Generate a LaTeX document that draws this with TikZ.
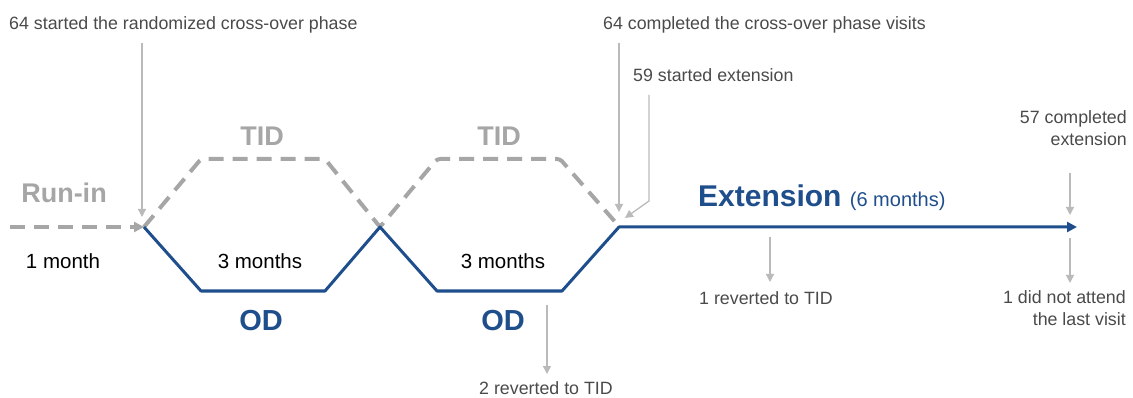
\documentclass[tikz,border=0pt]{standalone}
\usepackage{fontspec}
\setmainfont{Liberation Sans}
\usetikzlibrary{arrows.meta,positioning}
\definecolor{odblue}{HTML}{1F4E8C}
\definecolor{tidgray}{HTML}{A6A6A6}
\definecolor{ptrgray}{HTML}{BABABA}
\definecolor{notegray}{HTML}{4A4A4A}

\begin{document}
\begin{tikzpicture}[x=1pt, y=-1pt,
    note/.style={text=notegray, font=\fontsize{17.8}{22}\selectfont, inner sep=0pt},
    span/.style={text=black, font=\fontsize{20.5}{24}\selectfont, inner sep=0pt},
    tid/.style={text=tidgray, font=\bfseries\fontsize{27}{30}\selectfont, inner sep=0pt},
    od/.style={text=odblue, font=\bfseries\fontsize{29}{32}\selectfont, inner sep=0pt},
    odline/.style={draw=odblue, line width=3pt, line join=round},
    tidline/.style={draw=tidgray, line width=4pt, dash pattern=on 15pt off 9pt, rounded corners=3pt},
    pointer/.style={draw=ptrgray, line width=1.3pt, -{Triangle[length=8pt,width=8pt]}}
]
\useasboundingbox (0,0) rectangle (1133,398);

% Punti del percorso
\coordinate (r0) at (10,227);
\coordinate (s0) at (144,227);
\coordinate (b1) at (201,291);
\coordinate (b2) at (325,291);
\coordinate (x1) at (380,227);
\coordinate (b3) at (437,291);
\coordinate (b4) at (562,291);
\coordinate (e0) at (619,227);
\coordinate (e1) at (1077,227);
\coordinate (t1) at (201,159);
\coordinate (t2) at (325,159);
\coordinate (t3) at (437,159);
\coordinate (t4) at (560,159);
\coordinate (t5) at (617,224);

% Linee
\draw[tidline, -{Triangle[length=10pt,width=10pt]}] (r0) -- (s0);
\draw[tidline] (s0) -- (t1) -- (t2) -- (x1) -- (t3) -- (t4) -- (t5);
\draw[odline, -{Triangle[length=10pt,width=10pt]}] (s0) -- (b1) -- (b2) -- (x1) -- (b3) -- (b4) -- (e0) -- (e1);

% Fasi
\node[tid, anchor=base] (runin) at (64,203) {Run-in};
\node[tid, anchor=base] (tidA) at (262,146) {TID};
\node[tid, anchor=base] (tidB) at (499,146) {TID};
\node[span, anchor=base] (monthA) at (63,269) {1 month};
\node[span, anchor=base] (monthB) at (260,269) {3 months};
\node[span, anchor=base] (monthC) at (503,269) {3 months};
\node[od, anchor=base] (odA) at (261,330) {OD};
\node[od, anchor=base] (odB) at (503,330) {OD};
\node[anchor=base west, text=odblue, inner sep=0pt] (ext) at (698,207) {%
    \bfseries\fontsize{30}{34}\selectfont Extension
    \mdseries\fontsize{20}{24}\selectfont (6 months)};

% Note
\node[note, anchor=base west] (randStart) at (9,30) {64 started the randomized cross-over phase};
\node[note, anchor=base west] (xoverDone) at (603,30) {64 completed the cross-over phase visits};
\node[note, anchor=base west] (extStart) at (633,82) {59 started extension};
\node[note, anchor=north east, align=right] (extDone) at (1127,110) {57 completed\\extension};
\node[note, anchor=north east, align=right] (missed) at (1126,290) {1 did not attend\\the last visit};
\node[note, anchor=base] (revA) at (766,305) {1 reverted to TID};
\node[note, anchor=base] (revB) at (546,394) {2 reverted to TID};

% Frecce
\coordinate (randTop) at (142,43);
\coordinate (randTip) at (142,217);
\coordinate (xoverTop) at (619,43);
\coordinate (xoverTip) at (619,212);
\coordinate (extTop) at (649,95);
\coordinate (extBend) at (649,201);
\coordinate (extTip) at (625,218);
\coordinate (doneTop) at (1070,173);
\coordinate (doneTip) at (1070,215);
\coordinate (missTop) at (1070,238);
\coordinate (missTip) at (1070,283);
\coordinate (revATop) at (770,237);
\coordinate (revATip) at (770,282);
\coordinate (revBTop) at (547,305);
\coordinate (revBTip) at (547,374);

\draw[pointer] (randTop) -- (randTip);
\draw[pointer] (xoverTop) -- (xoverTip);
\draw[pointer] (extTop) -- (extBend) -- (extTip);
\draw[pointer] (doneTop) -- (doneTip);
\draw[pointer] (missTop) -- (missTip);
\draw[pointer] (revATop) -- (revATip);
\draw[pointer] (revBTop) -- (revBTip);
\end{tikzpicture}
\end{document}
